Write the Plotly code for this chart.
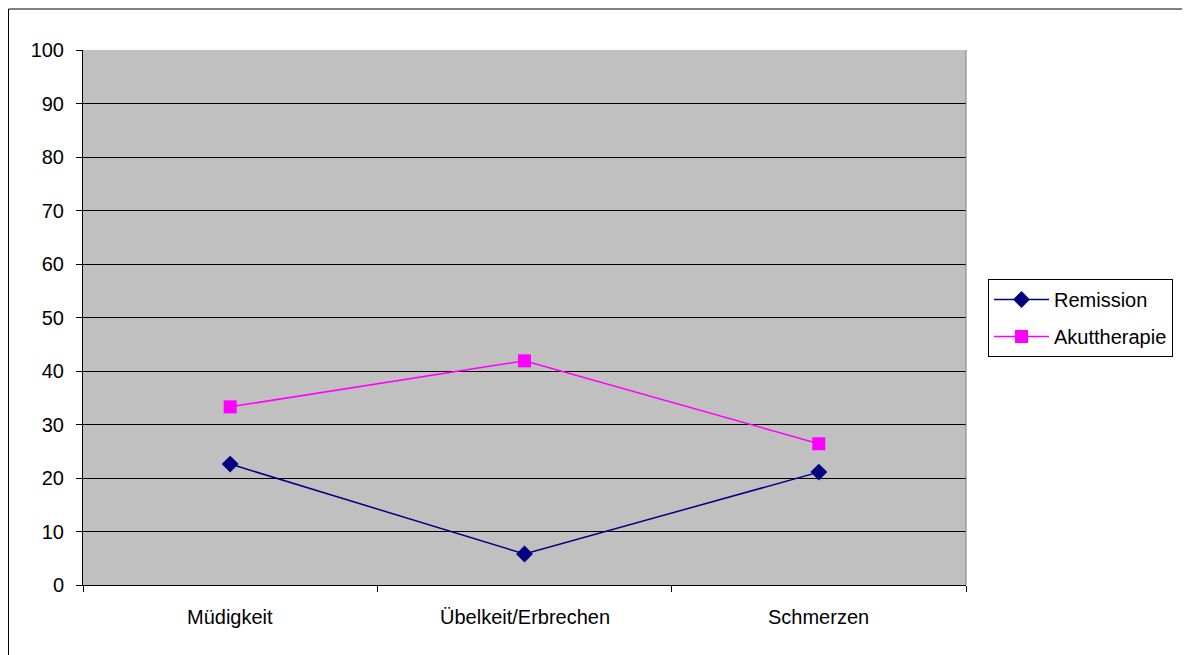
import plotly.graph_objects as go

categories = ["Müdigkeit", "Übelkeit/Erbrechen", "Schmerzen"]
remission = [22.6, 5.8, 21.1]
akuttherapie = [33.3, 41.9, 26.4]
y_ticks = [0, 10, 20, 30, 40, 50, 60, 70, 80, 90, 100]

# page has an 8px body margin, so figure coords = page coords - 8
W, H = 1182, 647
L, R, T, B = 75, 224, 42, 70

fig = go.Figure()
fig.add_trace(go.Scatter(
    x=[0, 1, 2], y=remission, name="Remission", mode="lines+markers",
    line=dict(color="#000080", width=1.5),
    marker=dict(symbol="diamond", size=13, color="#000080"),
    legendgroup="a"))
fig.add_trace(go.Scatter(
    x=[0, 1, 2], y=akuttherapie, name="Akuttherapie", mode="lines+markers",
    line=dict(color="#FF00FF", width=1.5),
    marker=dict(symbol="square", size=13, color="#FF00FF"),
    legendgroup="b"))

pw = W - L - R
ph = H - T - B

fig.update_layout(
    width=W, height=H,
    margin=dict(l=L, r=R, t=T, b=B, pad=0),
    paper_bgcolor="white", plot_bgcolor="#C0C0C0",
    font=dict(family="Liberation Sans, Arial, sans-serif", size=20, color="black"),
    showlegend=True,
    legend=dict(
        x=(980 - L) / pw, y=(H - B - 271) / ph, xanchor="left", yanchor="top",
        bordercolor="black", borderwidth=1, bgcolor="white",
        font=dict(size=20), tracegroupgap=8, traceorder="grouped",
        itemwidth=55),
    xaxis=dict(
        range=[-0.5, 2.5], tickmode="array", tickvals=[-0.5, 0.5, 1.5, 2.5],
        ticktext=["", "", "", ""], ticks="outside", ticklen=6, tickcolor="black",
        showgrid=False, zeroline=False, showline=True, linecolor="black", linewidth=1,
        fixedrange=True),
    yaxis=dict(
        range=[0, 100], tickvals=y_ticks, ticks="outside", ticklen=6, tickcolor="black",
        showgrid=True, gridcolor="black", gridwidth=1, zeroline=False,
        showline=True, linecolor="black", linewidth=1, ticklabelstandoff=8),
)

for i, c in enumerate(categories):
    fig.add_annotation(x=i, y=0, xref="x", yref="y", text=c, showarrow=False,
                       yshift=-32, font=dict(size=20, color="black"))

# right plot border (gray)
fig.add_shape(type="line", xref="paper", yref="paper", x0=1, x1=1, y0=0, y1=1,
              line=dict(color="#808080", width=1))
# outer chart border: only left and top edges are visible in the reference
fig.add_shape(type="line", xref="paper", yref="paper",
              x0=(0.5 - L) / pw, x1=(0.5 - L) / pw,
              y0=(H - B - H) / ph, y1=(H - B - 1) / ph,
              line=dict(color="black", width=1), layer="below")
fig.add_shape(type="line", xref="paper", yref="paper",
              x0=(0.5 - L) / pw, x1=(W - L) / pw,
              y0=(H - B - 1) / ph, y1=(H - B - 1) / ph,
              line=dict(color="black", width=1), layer="below")

fig.write_html("out.html", config={"displayModeBar": False})
